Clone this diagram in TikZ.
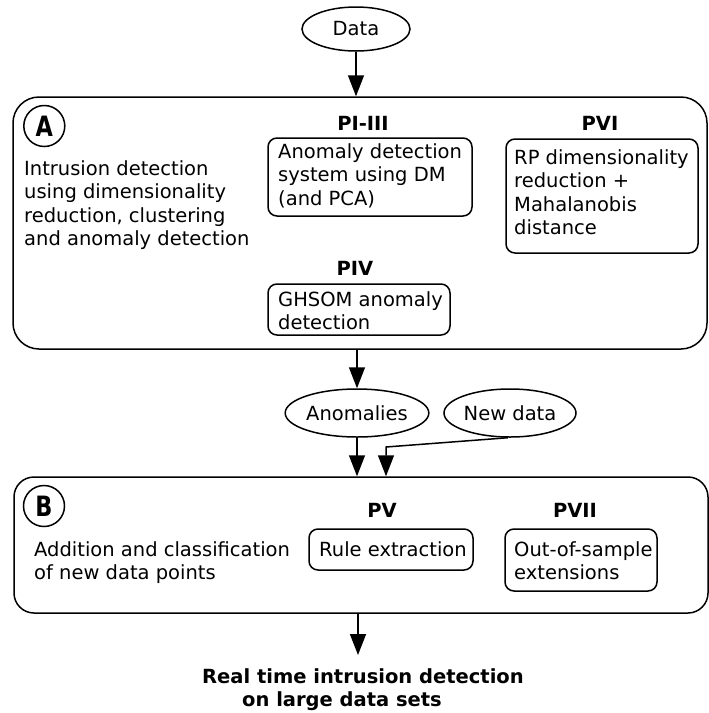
\documentclass[tikz,border=0pt]{standalone}
\usepackage{fontspec}
\usepackage{graphicx}
\setmainfont{DejaVu Sans}
\usetikzlibrary{arrows.meta,shapes.geometric}
\newcommand{\badgeletter}[1]{\scalebox{0.8}[1]{#1}}
\begin{document}
\begin{tikzpicture}[x=1pt,y=-1pt,
  every node/.style={font=\fontsize{19.5}{23.5}\selectfont},
  bigpanel/.style={draw, line width=1.5pt, rounded corners=26pt, inner sep=0pt},
  method/.style={draw, line width=1.5pt, rounded corners=9pt, inner sep=0pt},
  oval/.style={draw, ellipse, line width=1.5pt, inner sep=0pt},
  badge/.style={draw, circle, line width=1.5pt, inner sep=0pt,
    minimum size=41pt,
    font=\fontsize{28}{30}\selectfont\bfseries},
  % multi-line texts are placed by the baseline of their last line
  txt/.style={inner sep=0pt, align=left, anchor=base west},
  paper/.style={inner sep=0pt, anchor=base, font=\fontsize{19.5}{23.5}\selectfont\bfseries},
  flow/.style={-{Triangle[length=21pt,width=16pt]}, line width=1.5pt}
]
\useasboundingbox (0,0) rectangle (709,713);

% input
\node[oval, minimum width=108pt, minimum height=44pt] (data) at (356,29) {Data};

% panel A: detection methods
\node[bigpanel, minimum width=694pt, minimum height=252pt] (A) at (360,223) {};
\node[badge] (la) at (44.3,126) {\badgeletter{A}};
\node[txt] (ta) at (24,245.5) {Intrusion detection\\using dimensionality\\reduction, clustering\\and anomaly detection};
\node[paper] (p13) at (363,130) {PI-III};
\node[method, minimum width=204pt, minimum height=78pt] (b13) at (370,177) {};
\node[txt] (t13) at (278,205) {Anomaly detection\\system using DM\\(and PCA)};
\node[paper] (p6) at (600,130) {PVI};
\node[method, minimum width=192pt, minimum height=114pt] (b6) at (602,196) {};
\node[txt] (t6) at (514,234.5) {RP dimensionality\\reduction +\\Mahalanobis\\distance};
\node[paper] (p4) at (355,275) {PIV};
\node[method, minimum width=182pt, minimum height=51pt] (b4) at (359,309.5) {};
\node[txt] (t4) at (278,329.5) {GHSOM anomaly\\detection};

% intermediate data
\node[oval, minimum width=140pt, minimum height=48pt] (anom) at (357,413) {Anomalies};
\node[oval, minimum width=132pt, minimum height=48pt] (newd) at (510,413) {New data};

% panel B: classification of new points
\node[bigpanel, rounded corners=20pt, minimum width=694pt, minimum height=136pt] (B) at (361,545) {};
\node[badge] (lb) at (44,506) {\badgeletter{B}};
\node[txt] (tb) at (34,579.5) {Addition and classification\\of new data points};
\node[paper] (p5) at (382,517) {PV};
\node[method, minimum width=164pt, minimum height=41pt] (b5) at (391,549.5) {};
\node[txt] (t5) at (319,556) {Rule extraction};
\node[paper] (p7) at (575,517) {PVII};
\node[method, minimum width=152pt, minimum height=62pt] (b7) at (581,560) {};
\node[txt] (t7) at (514,579.5) {Out-of-sample\\extensions};

% outcome
\node[txt, font=\fontsize{19.5}{23}\selectfont\bfseries] (goal) at (202,706)
  {Real time intrusion detection\\\hspace*{40pt}on large data sets};

% connectors
\draw[flow] (data.south) -- (data.south |- A.north);
\draw[flow] (anom |- A.south) -- (anom.north);
\draw[flow] (anom.south) -- (anom.south |- B.north);
\coordinate (bend) at (386,447);
\draw[flow] (newd.265) -- (bend) -- (bend |- B.north);
\coordinate (end) at (358,655);
\draw[flow] (B.south -| end) -- (end);
\end{tikzpicture}
\end{document}
